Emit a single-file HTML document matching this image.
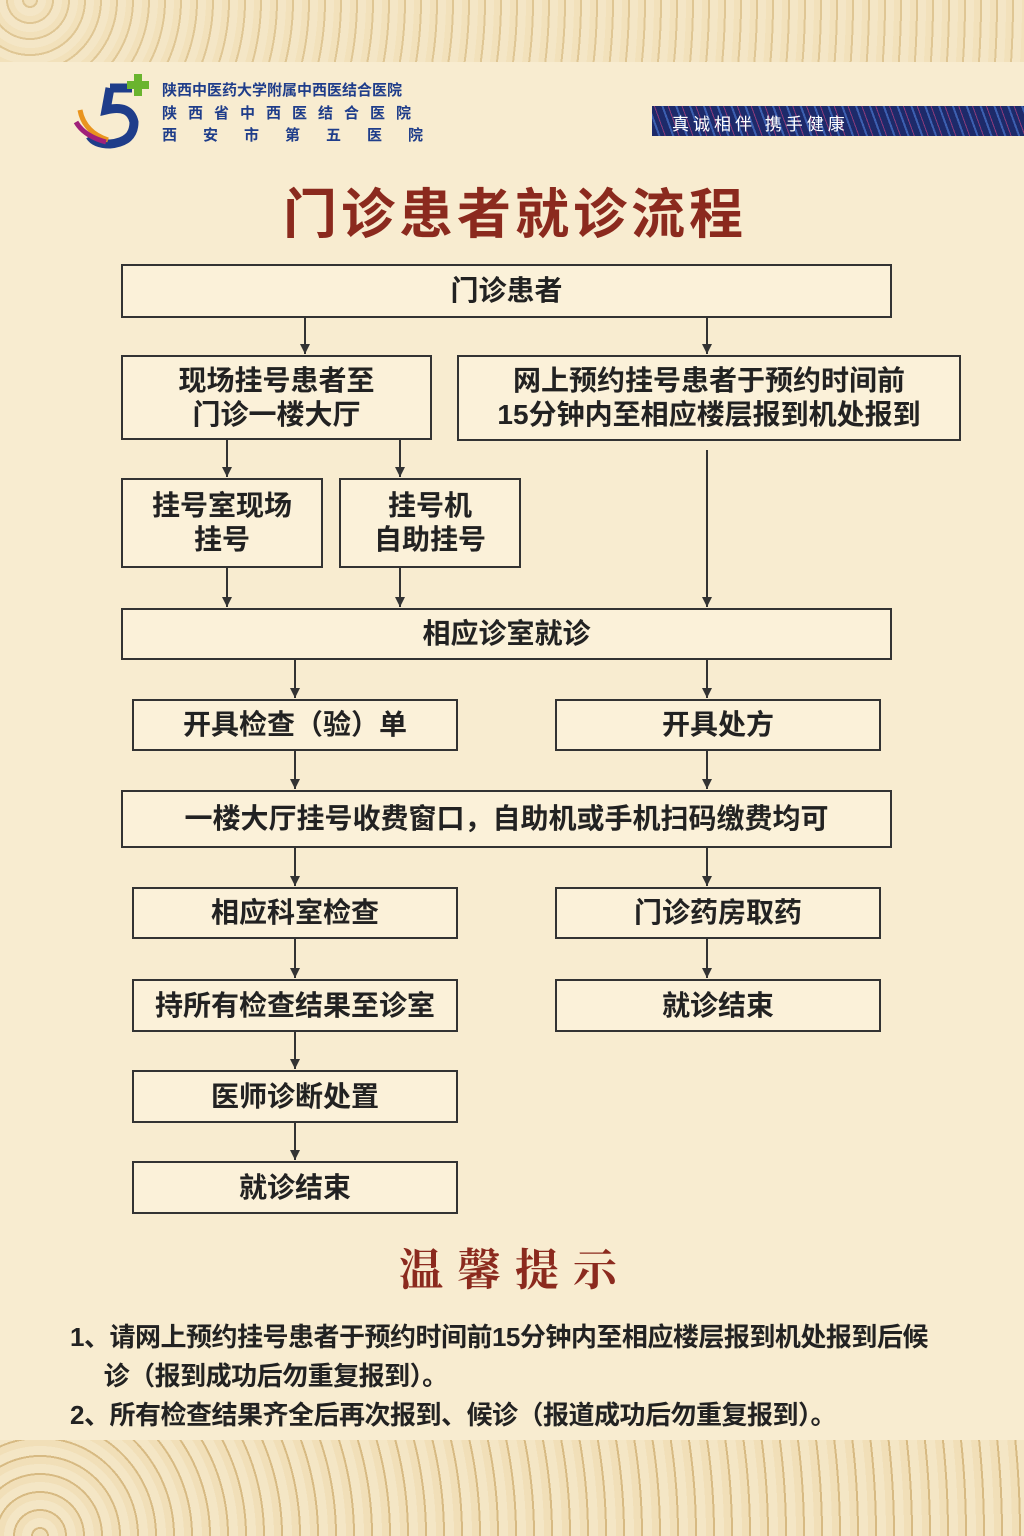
<!DOCTYPE html>
<html><head><meta charset="utf-8"><style>
body{margin:0;width:1024px;height:1536px;background:#f8ecd0;position:relative;overflow:hidden;font-family:"Liberation Sans","Noto Sans CJK SC",sans-serif;}
.b{position:absolute;border:2px solid #333;box-sizing:border-box;display:flex;align-items:center;justify-content:center;text-align:center;font-size:28px;font-weight:bold;color:#222;line-height:34px;background:#fbf1d9;}
.t{position:absolute;font-family:"Liberation Sans","Noto Sans CJK SC",sans-serif;}
</style></head><body>
<div style="position:absolute;left:0;top:0;width:1024px;height:62px;background:repeating-radial-gradient(circle at 30px 0,#efdcb2 0 6px,#d4b67a 6px 8px,#f3e4c2 8px 16px);opacity:.7"></div>
<div style="position:absolute;left:0;top:1440px;width:1024px;height:96px;background:repeating-radial-gradient(circle at 40px 96px,#efdcb2 0 7px,#cfae70 7px 9px,#f3e4c2 9px 18px);opacity:.8"></div>
<svg style="position:absolute;left:70px;top:70px" width="100" height="80">
<path d="M40 18 L62 18 M40 18 L36 40 Q60 34 64 52 Q64 72 40 74 Q25 74 20 66" stroke="#1f3d8a" stroke-width="9" fill="none"/>
<path d="M10 40 Q14 62 38 70" stroke="#e9941e" stroke-width="5" fill="none"/>
<path d="M6 52 Q14 66 36 72" stroke="#a0207a" stroke-width="5" fill="none"/>
<rect x="64" y="4" width="8" height="22" fill="#6ab42e"/><rect x="57" y="11" width="22" height="8" fill="#6ab42e"/>
</svg>
<div class="t" style="left:162px;top:79px;font-size:15px;color:#1f3d8a;font-weight:bold">陕西中医药大学附属中西医结合医院</div>
<div class="t" style="left:162px;top:102px;font-size:15px;color:#1f3d8a;font-weight:bold;letter-spacing:11px">陕西省中西医结合医院</div>
<div class="t" style="left:162px;top:124px;font-size:15px;color:#1f3d8a;font-weight:bold;letter-spacing:26px">西安市第五医院</div>
<div style="position:absolute;left:652px;top:106px;width:372px;height:30px;background:repeating-linear-gradient(70deg,#1d2a6a 0 6px,#3c5fb0 6px 8px,#1d2a6a 8px 12px,#8a3a7a 12px 13px)"></div>
<div class="t" style="left:672px;top:110px;font-size:17px;color:#fff;letter-spacing:4px">真诚相伴 携手健康</div>
<div class="t" style="left:0;width:1030px;text-align:center;top:170px;font-size:54px;font-weight:bold;color:#8b2a1e;letter-spacing:4px">门诊患者就诊流程</div>
<svg style="position:absolute;left:0;top:0" width="1024" height="1536">
<defs><marker id="a" markerWidth="12" markerHeight="12" refX="10" refY="5" orient="auto" markerUnits="userSpaceOnUse"><path d="M0 0 L10 5 L0 10 Z" fill="#333"/></marker></defs>
<g stroke="#333" stroke-width="2" marker-end="url(#a)">
<line x1="305" y1="317" x2="305" y2="354"/><line x1="707" y1="317" x2="707" y2="354"/>
<line x1="227" y1="439" x2="227" y2="477"/><line x1="400" y1="439" x2="400" y2="477"/>
<line x1="707" y1="450" x2="707" y2="607"/>
<line x1="227" y1="567" x2="227" y2="607"/><line x1="400" y1="567" x2="400" y2="607"/>
<line x1="295" y1="659" x2="295" y2="698"/><line x1="707" y1="659" x2="707" y2="698"/>
<line x1="295" y1="750" x2="295" y2="789"/><line x1="707" y1="750" x2="707" y2="789"/>
<line x1="295" y1="847" x2="295" y2="886"/><line x1="707" y1="847" x2="707" y2="886"/>
<line x1="295" y1="938" x2="295" y2="978"/><line x1="707" y1="938" x2="707" y2="978"/>
<line x1="295" y1="1031" x2="295" y2="1069"/><line x1="295" y1="1122" x2="295" y2="1160"/>
</g></svg>
<div class="b" style="left:121px;top:264px;width:771px;height:54px">门诊患者</div>
<div class="b" style="left:121px;top:355px;width:311px;height:85px">现场挂号患者至<br>门诊一楼大厅</div>
<div class="b" style="left:457px;top:355px;width:504px;height:86px">网上预约挂号患者于预约时间前<br>15分钟内至相应楼层报到机处报到</div>
<div class="b" style="left:121px;top:478px;width:202px;height:90px">挂号室现场<br>挂号</div>
<div class="b" style="left:339px;top:478px;width:182px;height:90px">挂号机<br>自助挂号</div>
<div class="b" style="left:121px;top:608px;width:771px;height:52px">相应诊室就诊</div>
<div class="b" style="left:132px;top:699px;width:326px;height:52px">开具检查（验）单</div>
<div class="b" style="left:555px;top:699px;width:326px;height:52px">开具处方</div>
<div class="b" style="left:121px;top:790px;width:771px;height:58px">一楼大厅挂号收费窗口，自助机或手机扫码缴费均可</div>
<div class="b" style="left:132px;top:887px;width:326px;height:52px">相应科室检查</div>
<div class="b" style="left:555px;top:887px;width:326px;height:52px">门诊药房取药</div>
<div class="b" style="left:132px;top:979px;width:326px;height:53px">持所有检查结果至诊室</div>
<div class="b" style="left:555px;top:979px;width:326px;height:53px">就诊结束</div>
<div class="b" style="left:132px;top:1070px;width:326px;height:53px">医师诊断处置</div>
<div class="b" style="left:132px;top:1161px;width:326px;height:53px">就诊结束</div>
<div class="t" style="left:0;width:1030px;text-align:center;top:1234px;font-size:44px;font-weight:bold;color:#8b2a1e;letter-spacing:14px;font-family:'Liberation Serif','Noto Serif CJK SC',serif">温馨提示</div>
<div class="t" style="left:70px;top:1318px;font-size:26px;font-weight:bold;color:#222;line-height:39px;letter-spacing:-0.5px">1、请网上预约挂号患者于预约时间前15分钟内至相应楼层报到机处报到后候<br>&nbsp;&nbsp;&nbsp;&nbsp;&nbsp;诊（报到成功后勿重复报到）。<br>2、所有检查结果齐全后再次报到、候诊（报道成功后勿重复报到）。</div>
</body></html>
